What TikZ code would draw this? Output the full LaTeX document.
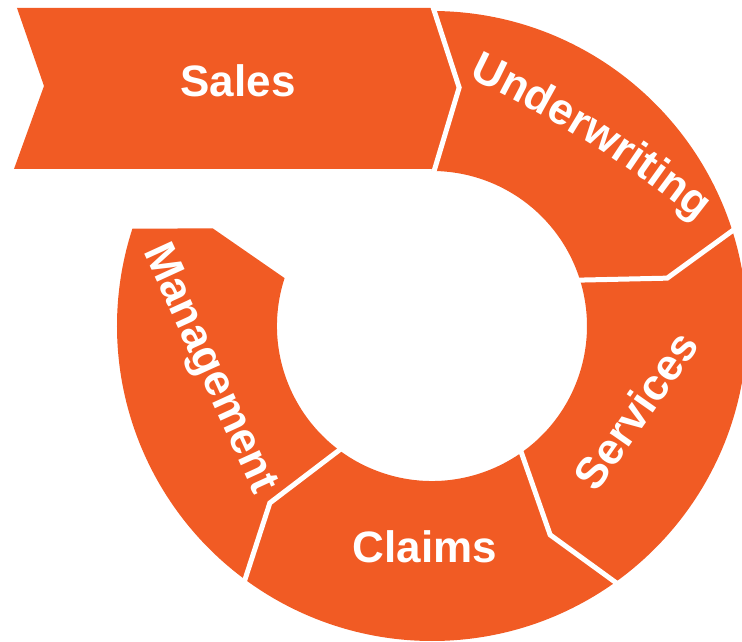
\documentclass[tikz,border=0pt]{standalone}
\usepackage{fontspec}
\setmainfont{Liberation Sans}
\usepackage{xcolor}
\usetikzlibrary{decorations.text}
\definecolor{flow}{RGB}{241,91,36}

\begin{document}
\begin{tikzpicture}[
  x=1pt,y=1pt,
  band/.style={fill=flow},
  gap/.style={draw=white,line width=5pt},
  lbl/.style={text=white,font=\bfseries\fontsize{44}{50}\selectfont,inner sep=0pt}
]
\useasboundingbox (-432,-316) rectangle (310,326);
% banner and ring
\fill[band] (-415,318) -- (0,318) -- (83.5:240) -- (0,157) -- (-418,157) -- (-388,240) -- cycle;
\fill[band] (90:315) arc[start angle=90,end angle=-198,radius=315]
  -- (-204:240) -- (-198:155) arc[start angle=-198,end angle=90,radius=155] -- cycle;
% chevron gaps
\foreach \a in {90,18,-54,-126}
  \draw[gap] (\a:148) -- (\a-6.5:240) -- (\a:322);
\node[lbl,anchor=base] (sales) at (-194,229) {Sales};
\coordinate (uw) at (-474.7,-824.8);
\path[decorate,decoration={text along path,text align=center,
  text={|\bfseries\fontsize{44}{50}\selectfont\color{white}|Underwriting}}]
  ([shift={(68:1189)}]uw) arc[start angle=68,end angle=48,radius=1189];
\node[lbl,anchor=base,rotate=55] (services) at (216.6,-93.5) {Services};
\node[lbl,anchor=base] (claims) at (-7,-236) {Claims};
\node[lbl,anchor=base,rotate=-65.4] (mgmt) at (-233,-47.5) {Management};
\end{tikzpicture}
\end{document}
